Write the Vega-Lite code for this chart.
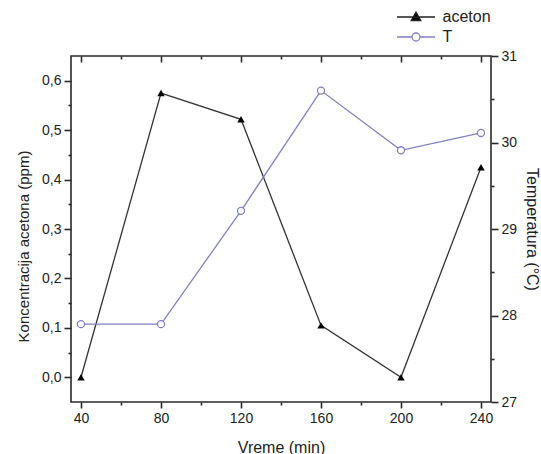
{
  "$schema": "https://vega.github.io/schema/vega-lite/v6.json",
  "width": 420,
  "height": 346,
  "autosize": {"type": "none"},
  "padding": {"left": 71, "top": 56, "right": 50, "bottom": 52},
  "background": "white",
  "config": {
    "view": {"stroke": "#2a2a2a", "strokeWidth": 1.6},
    "font": "Liberation Sans",
    "axis": {
      "domain": false,
      "tickColor": "#2a2a2a",
      "tickWidth": 1.6,
      "ticks": true,
      "grid": false,
      "labelColor": "#222222",
      "labelFontSize": 14,
      "titleColor": "#222222",
      "titleFontSize": 16,
      "titleFontWeight": "normal",
      "labelFont": "Liberation Sans",
      "titleFont": "Liberation Sans"
    },
    "legend": {"labelFont": "Liberation Sans", "labelFontSize": 16, "labelColor": "#222222", "padding": 0}
  },
  "datasets": {
    "aceton": [
      {"time": 40, "value": 0.0},
      {"time": 80, "value": 0.575},
      {"time": 120, "value": 0.522},
      {"time": 160, "value": 0.105},
      {"time": 200, "value": 0.0},
      {"time": 240, "value": 0.425}
    ],
    "temp": [
      {"time": 40, "value": 27.9},
      {"time": 80, "value": 27.9},
      {"time": 120, "value": 29.21},
      {"time": 160, "value": 30.6},
      {"time": 200, "value": 29.91},
      {"time": 240, "value": 30.11}
    ],
    "legend": [
      {"series": "aceton"},
      {"series": "T"}
    ]
  },
  "layer": [
    {
      "data": {"name": "aceton"},
      "encoding": {
        "x": {
          "field": "time", "type": "quantitative",
          "scale": {"domain": [35, 245], "nice": false, "zero": false},
          "axis": {
            "orient": "bottom",
            "title": "Vreme (min)",
            "values": [40, 80, 120, 160, 200, 240],
            "tickSize": 6,
            "labelPadding": 3,
            "titlePadding": 14
          }
        },
        "y": {
          "field": "value", "type": "quantitative",
          "scale": {"domain": [-0.05, 0.65], "nice": false, "zero": false},
          "axis": {
            "orient": "left",
            "title": "Koncentracija acetona (ppm)",
            "titleFontSize": 15,
            "titleY": 190,
            "values": [0, 0.1, 0.2, 0.3, 0.4, 0.5, 0.6],
            "labelExpr": "replace(format(datum.value, '.1f'), '.', ',')",
            "tickSize": 7,
            "labelPadding": 3,
            "titlePadding": 10
          }
        }
      },
      "layer": [
        {"mark": {"type": "line", "color": "#333333", "strokeWidth": 1.3}},
        {"mark": {"type": "point", "shape": "triangle-up", "filled": true, "color": "#000000", "size": 55, "opacity": 1}}
      ]
    },
    {
      "data": {"name": "temp"},
      "encoding": {
        "x": {
          "field": "time", "type": "quantitative",
          "scale": {"domain": [35, 245], "nice": false, "zero": false},
          "axis": {
            "orient": "top",
            "title": null,
            "labels": false,
            "values": [40, 80, 120, 160, 200, 240],
            "tickSize": 6,
            "offset": -6
          }
        },
        "y": {
          "field": "value", "type": "quantitative",
          "scale": {"domain": [27, 31], "nice": false, "zero": false},
          "axis": {
            "orient": "right",
            "title": "Temperatura (°C)",
            "values": [27, 28, 29, 30, 31],
            "tickSize": 7,
            "labelPadding": 3,
            "titlePadding": 7
          }
        }
      },
      "layer": [
        {"mark": {"type": "line", "color": "#8080c6", "strokeWidth": 1.3}},
        {"mark": {"type": "point", "shape": "circle", "filled": false, "fill": "white", "stroke": "#8080c6", "strokeWidth": 1.3, "size": 50, "opacity": 1}}
      ]
    },
    {
      "data": {"name": "aceton"},
      "mark": {"type": "point", "opacity": 0},
      "encoding": {
        "x": {
          "field": "time", "type": "quantitative",
          "scale": {"domain": [35, 245], "nice": false, "zero": false},
          "axis": {
            "orient": "bottom",
            "title": null,
            "labels": false,
            "values": [60, 100, 140, 180, 220],
            "tickSize": 3
          }
        },
        "y": {
          "field": "value", "type": "quantitative",
          "scale": {"domain": [-0.05, 0.65], "nice": false, "zero": false},
          "axis": {
            "orient": "left",
            "title": null,
            "labels": false,
            "values": [0.05, 0.15, 0.25, 0.35, 0.45, 0.55],
            "tickSize": 3
          }
        }
      }
    },
    {
      "data": {"name": "temp"},
      "mark": {"type": "point", "opacity": 0},
      "encoding": {
        "x": {
          "field": "time", "type": "quantitative",
          "scale": {"domain": [35, 245], "nice": false, "zero": false},
          "axis": {
            "orient": "top",
            "title": null,
            "labels": false,
            "values": [60, 100, 140, 180, 220],
            "tickSize": 3,
            "offset": -3
          }
        },
        "y": {
          "field": "value", "type": "quantitative",
          "scale": {"domain": [27, 31], "nice": false, "zero": false},
          "axis": {
            "orient": "right",
            "title": null,
            "labels": false,
            "values": [27.5, 28.5, 29.5, 30.5],
            "tickSize": 3
          }
        }
      }
    },
    {
      "data": {"name": "legend"},
      "mark": {"type": "point", "opacity": 0, "strokeWidth": 1.3},
      "encoding": {
        "shape": {
          "field": "series", "type": "nominal",
          "scale": {
            "domain": ["aceton", "T"],
            "range": [
              "M-3.8,0L3.8,0M0,-1L0.95,0.7L-0.95,0.7Z",
              "M-3.8,0L-0.8,0M0.8,0L3.8,0M0.8,0A0.8,0.8,0,1,1,-0.8,0A0.8,0.8,0,1,1,0.8,0Z"
            ]
          },
          "legend": {
            "title": null,
            "orient": "none",
            "legendX": 337,
            "legendY": -47,
            "symbolSize": 100,
            "symbolStrokeWidth": 1.3,
            "symbolOpacity": 1,
            "labelOffset": 18.5,
            "rowPadding": 4
          }
        },
        "fill": {
          "field": "series", "type": "nominal",
          "scale": {"domain": ["aceton", "T"], "range": ["#000000", "#ffffff"]},
          "legend": {"title": null}
        },
        "stroke": {
          "field": "series", "type": "nominal",
          "scale": {"domain": ["aceton", "T"], "range": ["#222222", "#8080c6"]},
          "legend": {"title": null}
        }
      }
    }
  ],
  "resolve": {
    "scale": {"y": "independent"},
    "axis": {"x": "independent", "y": "independent"}
  }
}
